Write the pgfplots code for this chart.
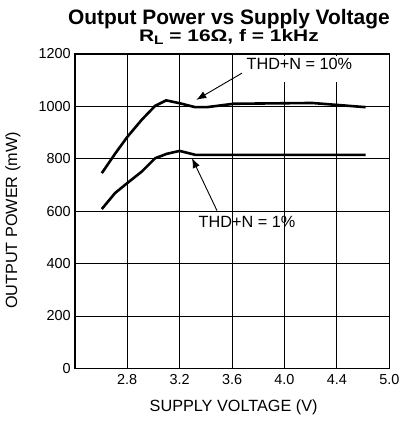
\documentclass[border=0pt]{standalone}
\usepackage{fontspec}
\setmainfont{Liberation Sans}
\usepackage{graphicx}
\usepackage{pgfplots}
\pgfplotsset{compat=1.18}
\usetikzlibrary{arrows.meta}
\pgfplotstableread{
x y
2.606 745
2.707 819
2.800 883
2.911 949
3.013 1002
3.097 1023
3.200 1012
3.319 997
3.408 997
3.612 1010
4.210 1013
4.620 997
}\tenpct
\pgfplotstableread{
x y
2.606 608
2.707 669
2.800 707
2.911 751
3.013 802
3.103 819
3.200 830
3.319 815
4.620 815
}\onepct
\begin{document}
\begin{tikzpicture}
\path[use as bounding box] (-74.8bp,-52.7bp) rectangle (328.2bp,368.3bp);
\begin{axis}[
  at={(0,0)}, anchor=south west,
  scale only axis, width=314.5bp, height=314.3bp,
  xmin=2.4, xmax=4.8, ymin=0, ymax=1200,
  xtick={2.8,3.2,3.6,4.0,4.4,4.8},
  xticklabels={2.8,3.2,3.6,4.0,4.4,5.0},
  ytick={0,200,400,600,800,1000,1200},
  yticklabels={0,200,400,600,800,1000,1200},
  grid=major,
  major grid style={black, line width=0.8bp},
  axis line style={black, line width=1.6bp},
  tick style={draw=none},
  tick label style={font=\fontsize{14.5}{15}\selectfont},
  xticklabel style={yshift=-2.5bp},
  yticklabel style={xshift=-0.5bp},
  /pgf/number format/assume math mode=true,
  xlabel={SUPPLY VOLTAGE (V)},
  ylabel={OUTPUT POWER (mW)},
  label style={font=\fontsize{16.3}{17}\selectfont},
  xlabel style={at={([yshift=-39bp]axis description cs:0.505,0)}, anchor=center},
  ylabel style={at={([xshift=-61.8bp]axis description cs:0,0.47)}, anchor=center},
  title={Output Power vs Supply Voltage\\\scalebox{1}[0.8]{R\raisebox{-0.4ex}{\fontsize{15.5}{15}\selectfont L} = 16Ω, f = 1kHz}},
  title style={at={(axis description cs:0.49,1)}, anchor=south, yshift=3bp, align=center, inner sep=0pt,
    font=\bfseries\fontsize{21}{17}\selectfont},
]
\addplot[black, line width=2.6bp, line join=round] table[x=x,y=y] {\tenpct};
\addplot[black, line width=2.6bp, line join=round] table[x=x,y=y] {\onepct};
\fill[white] (axis cs:3.686,1194) rectangle (axis cs:4.58,1094);
\fill[white] (axis cs:3.64,594) rectangle (axis cs:3.79,505);
\node[font=\fontsize{16.3}{16}\selectfont, inner sep=0pt] at (axis cs:4.114,1163) {THD+N = 10\%};
\node[font=\fontsize{16.3}{16}\selectfont, inner sep=0pt] at (axis cs:3.714,560) {THD+N = 1\%};
\draw[black, line width=0.9bp, -{Latex[length=10bp,width=7.5bp]}] (axis cs:3.676,1127) -- (axis cs:3.327,1025);
\draw[black, line width=0.9bp, -{Latex[length=10bp,width=7.5bp]}] (axis cs:3.485,602) -- (axis cs:3.294,803);
\end{axis}
\end{tikzpicture}
\end{document}
